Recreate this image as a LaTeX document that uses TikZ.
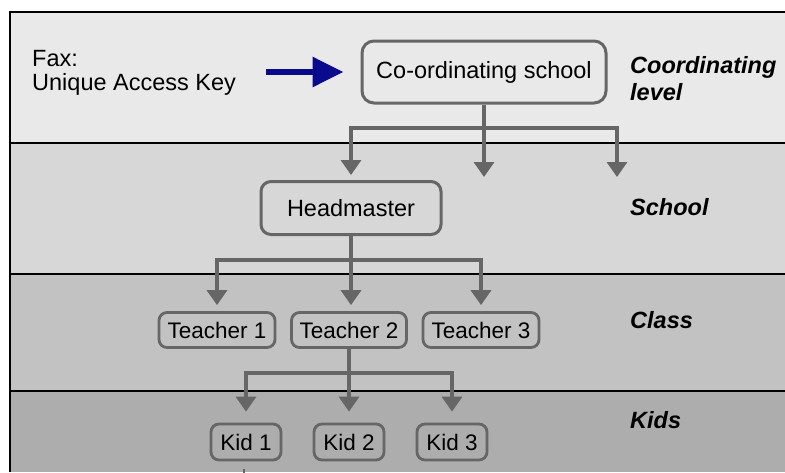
\documentclass[tikz,border=0pt]{standalone}
\usepackage{fontspec}
\setmainfont{Liberation Sans}
\usetikzlibrary{arrows.meta,calc}
\definecolor{bandA}{HTML}{E9E9E9}
\definecolor{bandB}{HTML}{D7D7D7}
\definecolor{bandC}{HTML}{C2C2C2}
\definecolor{bandD}{HTML}{ADADAD}
\definecolor{linegray}{HTML}{666666}
\definecolor{navyarrow}{HTML}{0A0A8C}
\begin{document}
\begin{tikzpicture}[x=1pt,y=-1pt,
  box/.style={draw=linegray, line width=3pt, rounded corners=12pt, inner sep=0pt,
    font=\fontsize{23.5}{24}\selectfont},
  smallbox/.style={box, rounded corners=8pt, line width=2.8pt, minimum height=35pt,
    font=\fontsize{22.5}{24}\selectfont},
  conn/.style={draw=linegray, line width=3.5pt},
  arr/.style={conn, -{Triangle[width=20pt,length=15pt]}},
  txt/.style={anchor=base west, inner sep=0pt, font=\fontsize{23.5}{24}\selectfont},
  lvl/.style={anchor=base west, inner sep=0pt, font=\fontsize{23.5}{24}\selectfont\bfseries\itshape},
  bandline/.style={draw=black, line width=2pt}]
\useasboundingbox (0,0) rectangle (785,472);
\fill[white] (0,0) rectangle (785,472);
% bands
\fill[bandA] (10,12) rectangle (785,143);
\fill[bandB] (10,143) rectangle (785,274);
\fill[bandC] (10,274) rectangle (785,391);
\fill[bandD] (10,391) rectangle (785,472);
\draw[bandline] (10,472) -- (10,12) -- (785,12);
\draw[bandline] (10,143) -- (785,143);
\draw[bandline] (10,274) -- (785,274);
\draw[bandline] (10,391) -- (785,391);
% texts left
\node[txt] (fax1) at (32,66) {Fax:};
\node[txt] (fax2) at (32,90) {Unique Access Key};
% level labels
\node[lvl] (l1a) at (630,73) {Coordinating};
\node[lvl] (l1b) at (630,100) {level};
\node[lvl] (l2) at (630,215) {School};
\node[lvl] (l3) at (630,328) {Class};
\node[lvl] (l4) at (630,428) {Kids};
% boxes
\node[box, minimum width=244pt, minimum height=62pt] (cs) at (484,72) {Co-ordinating school};
\node[box, rounded corners=10pt, minimum width=180pt, minimum height=53pt] (hm) at (351,208) {Headmaster};
\node[smallbox, minimum width=116pt] (t1) at (217,330) {Teacher 1};
\node[smallbox, minimum width=115pt] (t2) at (349,330) {Teacher 2};
\node[smallbox, minimum width=116pt] (t3) at (481,330) {Teacher 3};
\node[smallbox, minimum width=70pt, minimum height=36pt] (k1) at (246,442) {Kid 1};
\node[smallbox, minimum width=70pt, minimum height=36pt] (k2) at (349,442) {Kid 2};
\node[smallbox, minimum width=70pt, minimum height=36pt] (k3) at (452,442) {Kid 3};
% blue arrow
\coordinate (fa) at (266,72);
\draw[navyarrow, line width=6pt, -{Triangle[width=29pt,length=31pt]}, shorten >=17pt] (fa) -- (cs.west);
% tree 1
\coordinate (j1) at (484,128);
\coordinate (e2) at (484,177);
\coordinate (e3) at (617,177);
\draw[conn] (cs.south) -- (j1);
\draw[arr, shorten >=5pt] (j1) -| (hm.north);
\draw[arr] (j1) -- (e2);
\draw[arr] (j1) -| (e3);
% tree 2
\coordinate (j2) at (351,260);
\draw[conn] (hm.south) -- (j2);
\draw[arr, shorten >=6pt] (j2) -| (t1.north);
\draw[arr, shorten >=6pt] (j2) -- (j2 |- t2.north);
\draw[arr, shorten >=6pt] (j2) -| (t3.north);
% tree 3
\coordinate (j3) at ($(t2.south)+(0,24)$);
\draw[conn] (t2.south) -- (j3);
\draw[arr, shorten >=11pt] (j3) -| (k1.north);
\draw[arr, shorten >=11pt] (j3) -- (k2.north);
\draw[arr, shorten >=11pt] (j3) -| (k3.north);
% stub below Kid 1
\draw[conn, line width=2.5pt] ($(k1.south)+(-2,8)$) -- ($(k1.south)+(-2,12)$);
\end{tikzpicture}
\end{document}
